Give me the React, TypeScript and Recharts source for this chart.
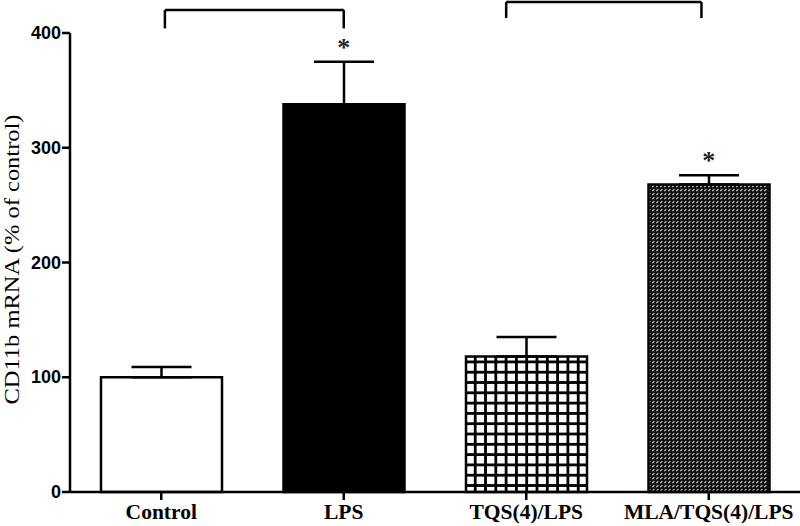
import React from 'react';
import { BarChart, Bar, XAxis, YAxis, Cell, ErrorBar, ReferenceLine, ReferenceDot } from 'recharts';

const categories = ['Control', 'LPS', 'TQS(4)/LPS', 'MLA/TQS(4)/LPS'];
const meanValues = [100, 338, 118, 268];
const errorValues = [9, 37, 17, 8];
const significant = [false, true, false, true];
const yTicks = [0, 100, 200, 300, 400];
// comparison brackets, in category-slot units (0..4) and value units
const bracketStart = [0.52, 2.39];
const bracketEnd = [1.5, 3.46];
const bracketTop = [420, 427];
const bracketFoot = [404, 413];

const data = categories.map((name, i) => ({
  name,
  slot: i + 0.5,
  value: meanValues[i],
  err: [0, errorValues[i]],
}));

const fills = ['#ffffff', '#000000', 'url(#gridPat)', 'url(#hatchPat)'];
const INK = '#000000';

const XTick = (props: any) => {
  const { x, y, payload } = props;
  return (
    <text x={x} y={y + 17} textAnchor="middle" fontFamily="'Liberation Serif', 'Times New Roman', serif" fontWeight="bold" fontSize={21.5} fill={INK}>
      {payload.value}
    </text>
  );
};

const YTick = (props: any) => {
  const { x, y, payload } = props;
  return (
    <text x={x + 1} y={y} dy={6} textAnchor="end" fontFamily="'Liberation Sans', Arial, sans-serif" fontWeight="bold" fontSize={18} fill={INK}>
      {payload.value}
    </text>
  );
};

const YLabel = (props: any) => {
  const { viewBox } = props;
  const cx = viewBox.x + 12;
  const cy = viewBox.y + viewBox.height / 2 - 3;
  return (
    <text x={cx} y={cy} transform={`rotate(-90, ${cx}, ${cy})`} textAnchor="middle" dominantBaseline="central" fontFamily="'Liberation Serif', 'Times New Roman', serif" fontSize={21} textLength={290} lengthAdjust="spacingAndGlyphs" fill={INK}>
      CD11b mRNA (% of control)
    </text>
  );
};

const Star = (props: any) => {
  const { viewBox } = props;
  const cx = viewBox.x + viewBox.width / 2;
  const cy = viewBox.y + viewBox.height / 2;
  return (
    <text x={cx} y={cy - 6} textAnchor="middle" fontFamily="'Liberation Serif', 'Times New Roman', serif" fontWeight="bold" fontSize={26} fill="#222">
      *
    </text>
  );
};

export default function App() {
  return (
    <div style={{ position: 'absolute', left: 0, top: 0, width: 800, height: 526, background: '#fff' }}>
      <svg width={0} height={0} style={{ position: 'absolute' }}>
        <defs>
          <pattern id="gridPat" patternUnits="userSpaceOnUse" width={10.3} height={10.3}>
            <rect x={0} y={0} width={10.3} height={10.3} fill="#fff" />
            <rect x={0} y={0} width={2.8} height={10.3} fill="#000" />
            <rect x={0} y={0} width={10.3} height={2.8} fill="#000" />
          </pattern>
          <pattern id="hatchPat" patternUnits="userSpaceOnUse" width={4} height={4}>
            <rect x={0} y={0} width={4} height={4} fill="#111" />
            <line x1={0.3} y1={3.2} x2={2.3} y2={1.2} stroke="#d8d8d8" strokeWidth={1.1} />
          </pattern>
        </defs>
      </svg>
      <BarChart width={800} height={526} data={data} margin={{ top: 33, right: 0, bottom: 4, left: 0 }}>
        <XAxis
          dataKey="name"
          axisLine={{ stroke: INK, strokeWidth: 2.5 }}
          tickLine={{ stroke: INK, strokeWidth: 2.5 }}
          tickSize={8}
          height={30}
          tick={<XTick />}
          interval={0}
        />
        <XAxis xAxisId="slots" dataKey="slot" type="number" domain={[0, 4]} allowDataOverflow hide />
        <YAxis
          domain={[0, 400]}
          ticks={yTicks}
          width={70}
          axisLine={{ stroke: INK, strokeWidth: 2.5 }}
          tickLine={{ stroke: INK, strokeWidth: 2.5 }}
          tickSize={8}
          tick={<YTick />}
          label={<YLabel />}
        />
        <Bar dataKey="value" barSize={121} stroke={INK} strokeWidth={2.5} isAnimationActive={false}>
          {data.map((d, i) => (
            <Cell key={d.name} fill={fills[i]} />
          ))}
          <ErrorBar dataKey="err" width={30} stroke={INK} strokeWidth={2.5} direction="y" />
        </Bar>
        {bracketStart.map((x0, i) => (
          <ReferenceLine
            key={`bt${i}`}
            xAxisId="slots"
            ifOverflow="visible"
            stroke={INK}
            strokeWidth={2.5}
            segment={[{ x: x0, y: bracketTop[i] }, { x: bracketEnd[i], y: bracketTop[i] }]}
          />
        ))}
        {bracketStart.map((x0, i) => (
          <ReferenceLine
            key={`bl${i}`}
            xAxisId="slots"
            ifOverflow="visible"
            stroke={INK}
            strokeWidth={2.5}
            segment={[{ x: x0, y: bracketTop[i] }, { x: x0, y: bracketFoot[i] }]}
          />
        ))}
        {bracketEnd.map((x1, i) => (
          <ReferenceLine
            key={`br${i}`}
            xAxisId="slots"
            ifOverflow="visible"
            stroke={INK}
            strokeWidth={2.5}
            segment={[{ x: x1, y: bracketTop[i] }, { x: x1, y: bracketFoot[i] }]}
          />
        ))}
        {data.map((d, i) =>
          significant[i] ? (
            <ReferenceDot
              key={`s${i}`}
              x={d.name}
              y={meanValues[i] + errorValues[i]}
              r={1}
              fill="none"
              stroke="none"
              ifOverflow="visible"
              label={<Star />}
            />
          ) : null
        )}
      </BarChart>
    </div>
  );
}
